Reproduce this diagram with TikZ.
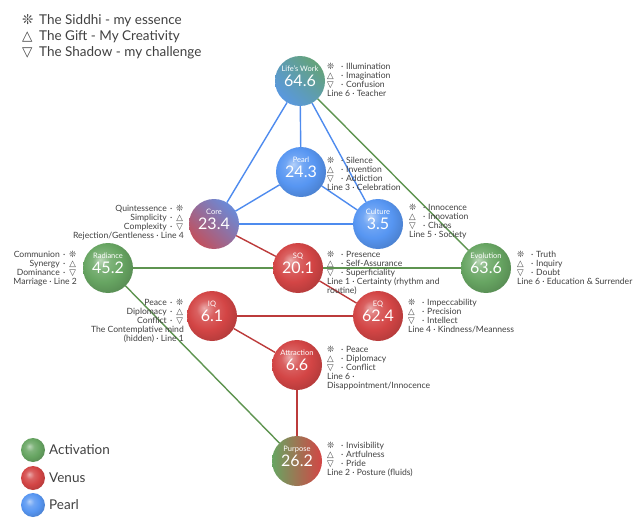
\documentclass[tikz,border=0pt]{standalone}
\usepackage{fontspec}
\setmainfont{Lato}
\newfontfamily\symfont{DejaVu Sans}
\usetikzlibrary{backgrounds,shadings}

\definecolor{actgreen}{HTML}{67A562}
\definecolor{venred}{HTML}{D34545}
\definecolor{pearlblue}{HTML}{5796F2}
\definecolor{linegreen}{HTML}{5E9450}
\definecolor{linered}{HTML}{BC3B3B}
\definecolor{lineblue}{HTML}{4E8BEE}
\definecolor{infogray}{HTML}{404040}

% softer sphere than the ball shading
\makeatletter
\pgfdeclareradialshading[tikz@ball]{softball}{\pgfqpoint{-8bp}{8bp}}{%
  color(0bp)=(tikz@ball!45!white);
  color(9bp)=(tikz@ball!85!white);
  color(19bp)=(tikz@ball);
  color(30bp)=(tikz@ball!85!black);
  color(50bp)=(tikz@ball!70!black)}
\makeatother

\newcommand{\siddhi}{{\symfont ❊}}
\newcommand{\giftsym}{{\symfont △}}
\newcommand{\shadowsym}{{\symfont ▽}}
% right hand info line: symbol, dot, word
\newcommand{\gkr}[2]{\makebox[11pt][l]{#1}\makebox[8pt][c]{·}#2}
% left hand info line: word, dot, symbol
\newcommand{\gkl}[2]{#2\makebox[9pt][c]{·}\makebox[8pt][c]{#1}}

\begin{document}
\begin{tikzpicture}[
    x = 1pt,
    y = -1pt,
    sphere/.style = {circle, minimum size=50pt, inner sep=0pt, outer sep=0pt,
              text=white, font=\fontsize{16}{16}\selectfont},
    activ/.style = {sphere, ball color=actgreen, shading=softball},
    venus/.style = {sphere, ball color=venred, shading=softball},
    pearl/.style = {sphere, ball color=pearlblue, shading=softball},
    spherename/.style = {inner sep=0pt, text=white, font=\fontsize{7.5}{8}\selectfont},
    inforight/.style = {anchor=north west, align=left, inner sep=0pt,
              text=infogray, font=\fontsize{8.6}{9}\selectfont},
    infoleft/.style = {anchor=north east, align=right, inner sep=0pt,
              text=infogray, font=\fontsize{8.6}{9}\selectfont},
    bluelink/.style = {lineblue, line width=1.4pt},
    greenlink/.style = {linegreen, line width=1.4pt},
    redlink/.style = {linered, line width=1.4pt},
    legendtext/.style = {anchor=west, inner sep=0pt, text=infogray,
              font=\fontsize{13.5}{15}\selectfont},
    ]

\useasboundingbox (0,0) rectangle (640,524);

% spheres
\node[sphere, upper left=pearlblue!55!actgreen, upper right=actgreen,
      lower left=pearlblue, lower right=pearlblue!55!actgreen] (lifework) at (300,81) {64.6};
\node[pearl] (pearl) at (301,172) {24.3};
\node[sphere, upper left=venred!50!pearlblue, upper right=pearlblue,
      lower left=venred, lower right=venred!50!pearlblue] (core) at (214,224) {23.4};
\node[pearl] (culture) at (378,224) {3.5};
\node[activ] (radiance) at (108,268) {45.2};
\node[venus] (sq) at (298,268) {20.1};
\node[activ] (evolution) at (486,268) {63.6};
\node[venus] (iq) at (212,316) {6.1};
\node[venus] (eq) at (378,316) {62.4};
\node[venus] (attraction) at (297,365) {6.6};
\node[sphere, left color=actgreen, right color=venred] (purpose) at (297,461) {26.2};

% sphere names
\node[spherename] (lifeworkname) at ([yshift=12pt]lifework.center) {Life's Work};
\node[spherename] (pearlname) at ([yshift=12pt]pearl.center) {Pearl};
\node[spherename] (corename) at ([yshift=12pt]core.center) {Core};
\node[spherename] (culturename) at ([yshift=12pt]culture.center) {Culture};
\node[spherename] (radiancename) at ([yshift=12pt]radiance.center) {Radiance};
\node[spherename] (sqname) at ([yshift=12pt]sq.center) {SQ};
\node[spherename] (evolutionname) at ([yshift=12pt]evolution.center) {Evolution};
\node[spherename] (iqname) at ([yshift=12pt]iq.center) {IQ};
\node[spherename] (eqname) at ([yshift=12pt]eq.center) {EQ};
\node[spherename] (attractionname) at ([yshift=12pt]attraction.center) {Attraction};
\node[spherename] (purposename) at ([yshift=12pt]purpose.center) {Purpose};

% links
\begin{scope}[on background layer]
\draw [bluelink] (lifework) -- (core);
\draw [bluelink] (lifework) -- (pearl);
\draw [bluelink] (lifework) -- (culture);
\draw [bluelink] (pearl) -- (core);
\draw [bluelink] (pearl) -- (culture);
\draw [bluelink] (core) -- (culture);
\draw [greenlink] (lifework) -- (evolution);
\draw [greenlink] (radiance) -- (evolution);
\draw [greenlink] (radiance) -- (purpose);
\draw [redlink] (core) -- (sq);
\draw [redlink] (sq) -- (eq);
\draw [redlink] (iq) -- (eq);
\draw [redlink] (iq) -- (attraction);
\draw [redlink] (attraction) -- (purpose);
\end{scope}

% gene key texts
\node[inforight] (lifeworkinfo) at (327,63) {\gkr{\siddhi}{Illumination}\\ \gkr{\giftsym}{Imagination}\\ \gkr{\shadowsym}{Confusion}\\ Line 6 · Teacher};
\node[inforight] (pearlinfo) at (327,157) {\gkr{\siddhi}{Silence}\\ \gkr{\giftsym}{Invention}\\ \gkr{\shadowsym}{Addiction}\\ Line 3 · Celebration};
\node[inforight] (cultureinfo) at (409,204) {\gkr{\siddhi}{Innocence}\\ \gkr{\giftsym}{Innovation}\\ \gkr{\shadowsym}{Chaos}\\ Line 5 · Society};
\node[infoleft] (coreinfo) at (184,205) {\gkl{\siddhi}{Quintessence}\\ \gkl{\giftsym}{Simplicity}\\ \gkl{\shadowsym}{Complexity}\\ Rejection/Gentleness · Line 4};
\node[infoleft] (radianceinfo) at (77,251) {\gkl{\siddhi}{Communion}\\ \gkl{\giftsym}{Synergy}\\ \gkl{\shadowsym}{Dominance}\\ Marriage · Line 2};
\node[inforight] (sqinfo) at (327,251) {\gkr{\siddhi}{Presence}\\ \gkr{\giftsym}{Self-Assurance}\\ \gkr{\shadowsym}{Superficiality}\\ Line 1 · Certainty (rhythm and\\ routine)};
\node[inforight] (evolutioninfo) at (517,251) {\gkr{\siddhi}{Truth}\\ \gkr{\giftsym}{Inquiry}\\ \gkr{\shadowsym}{Doubt}\\ Line 6 · Education \& Surrender};
\node[infoleft] (iqinfo) at (184,299) {\gkl{\siddhi}{Peace}\\ \gkl{\giftsym}{Diplomacy}\\ \gkl{\shadowsym}{Conflict}\\ The Contemplative mind\\ (hidden) · Line 1};
\node[inforight] (eqinfo) at (408,299) {\gkr{\siddhi}{Impeccability}\\ \gkr{\giftsym}{Precision}\\ \gkr{\shadowsym}{Intellect}\\ Line 4 · Kindness/Meanness};
\node[inforight] (attractioninfo) at (327,346) {\gkr{\siddhi}{Peace}\\ \gkr{\giftsym}{Diplomacy}\\ \gkr{\shadowsym}{Conflict}\\ Line 6 ·\\ Disappointment/Innocence};
\node[inforight] (purposeinfo) at (327,442) {\gkr{\siddhi}{Invisibility}\\ \gkr{\giftsym}{Artfulness}\\ \gkr{\shadowsym}{Pride}\\ Line 2 · Posture (fluids)};

% legend top
\node[legendtext] (keysiddhi) at (22,21) {\makebox[17pt][l]{\siddhi}The Siddhi - my essence};
\node[legendtext] (keygift) at (22,37) {\makebox[17pt][l]{\giftsym}The Gift - My Creativity};
\node[legendtext] (keyshadow) at (22,53) {\makebox[17pt][l]{\shadowsym}The Shadow - my challenge};

% legend bottom
\node[activ, minimum size=24pt] (keyactiv) at (33,450) {};
\node[venus, minimum size=24pt] (keyvenus) at (33,478) {};
\node[pearl, minimum size=24pt] (keypearl) at (33,505) {};
\node[legendtext] (keyactivtext) at (49,450) {Activation};
\node[legendtext] (keyvenustext) at (49,478) {Venus};
\node[legendtext] (keypearltext) at (49,505) {Pearl};

\end{tikzpicture}
\end{document}
